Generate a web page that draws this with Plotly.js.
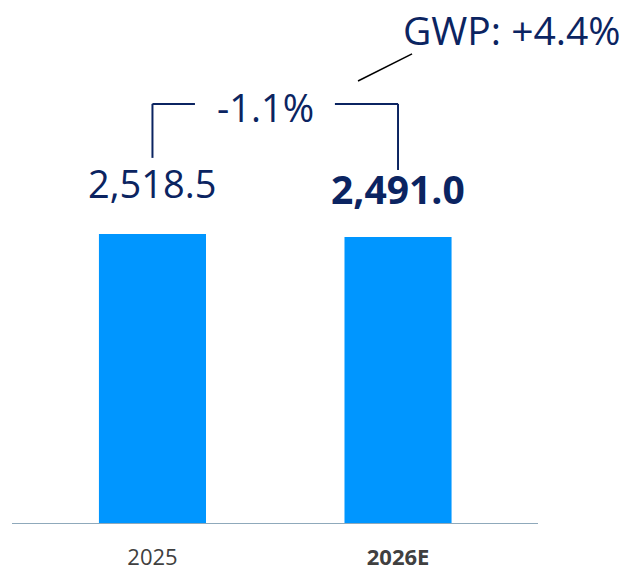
<!DOCTYPE html>
<html>
<head>
<meta charset="utf-8">
<script src="https://cdn.plot.ly/plotly-3.0.1.min.js"></script>
<style>html,body{margin:0;padding:0;background:#fff;}#chart{width:627px;height:573px;}</style>
</head>
<body>
<div id="chart"></div>
<script>
const categories = ["2025", "2026E"];
const tickLabels = ["2025", "<b>2026E</b>"];
const values = [2518.5, 2491.0];
const valueLabels = ["2,518.5", "<b>2,491.0</b>"];
const changeLabel = "-1.1%";
const gwpLabel = "GWP: +4.4%";

const navy = "#0b2461";
const barColor = "#0096ff";
const font = "Open Sans, Noto Sans, sans-serif";

const trace = {
  type: "bar",
  x: [0, 1],
  y: values,
  width: 0.436,
  marker: {color: barColor},
  hoverinfo: "skip"
};

const annotations = [
  {x: 0, y: values[0] + 200, xref: "x", yref: "y", text: valueLabels[0], showarrow: false,
   font: {family: font, size: 38, color: navy}, xanchor: "center", yanchor: "bottom"},
  {x: 1, y: values[1] + 172, xref: "x", yref: "y", text: valueLabels[1], showarrow: false,
   font: {family: font, size: 39, color: navy}, xanchor: "center", yanchor: "bottom"},
  {x: 0.46, y: 3620, xref: "x", yref: "y", text: changeLabel, showarrow: false,
   font: {family: font, size: 38, color: navy}, xanchor: "center", yanchor: "middle"},
  {x: 1.465, y: 4295, xref: "x", yref: "y", text: gwpLabel, showarrow: false,
   font: {family: font, size: 39, color: navy}, xanchor: "center", yanchor: "middle"}
];

const lineStyle = {color: navy, width: 2};
const shapes = [
  {type: "line", xref: "x", yref: "y", x0: 0, x1: 0, y0: 3179, y1: 3648, line: lineStyle},
  {type: "line", xref: "x", yref: "y", x0: 0, x1: 0.173, y0: 3648, y1: 3648, line: lineStyle},
  {type: "line", xref: "x", yref: "y", x0: 0.743, x1: 1, y0: 3648, y1: 3648, line: lineStyle},
  {type: "line", xref: "x", yref: "y", x0: 1, x1: 1, y0: 3074, y1: 3648, line: lineStyle},
  {type: "line", xref: "x", yref: "y", x0: 0.837, x1: 1.057, y0: 3847, y1: 4082, line: {color: "#000", width: 1.5}}
];

const layout = {
  width: 627, height: 573,
  margin: {l: 12, r: 89, t: 0, b: 49},
  paper_bgcolor: "#fff", plot_bgcolor: "#fff",
  showlegend: false,
  xaxis: {
    range: [-0.572, 1.570], tickvals: [0, 1], ticktext: tickLabels,
    showgrid: false, zeroline: false, showline: false, ticks: "",
    ticklabelstandoff: 18,
    tickfont: {family: font, size: 22, color: "#404040"}, fixedrange: true
  },
  yaxis: {
    range: [0, 4550], showgrid: false, zeroline: false, showline: false,
    showticklabels: false, ticks: "", fixedrange: true
  },
  annotations: annotations,
  shapes: shapes.concat([
    {type: "line", xref: "x", yref: "y", x0: -0.572, x1: 1.570, y0: 0, y1: 0, line: {color: "#8fa9bb", width: 2}}
  ])
};

Plotly.newPlot("chart", [trace], layout, {displayModeBar: false, staticPlot: true});
</script>
</body>
</html>
